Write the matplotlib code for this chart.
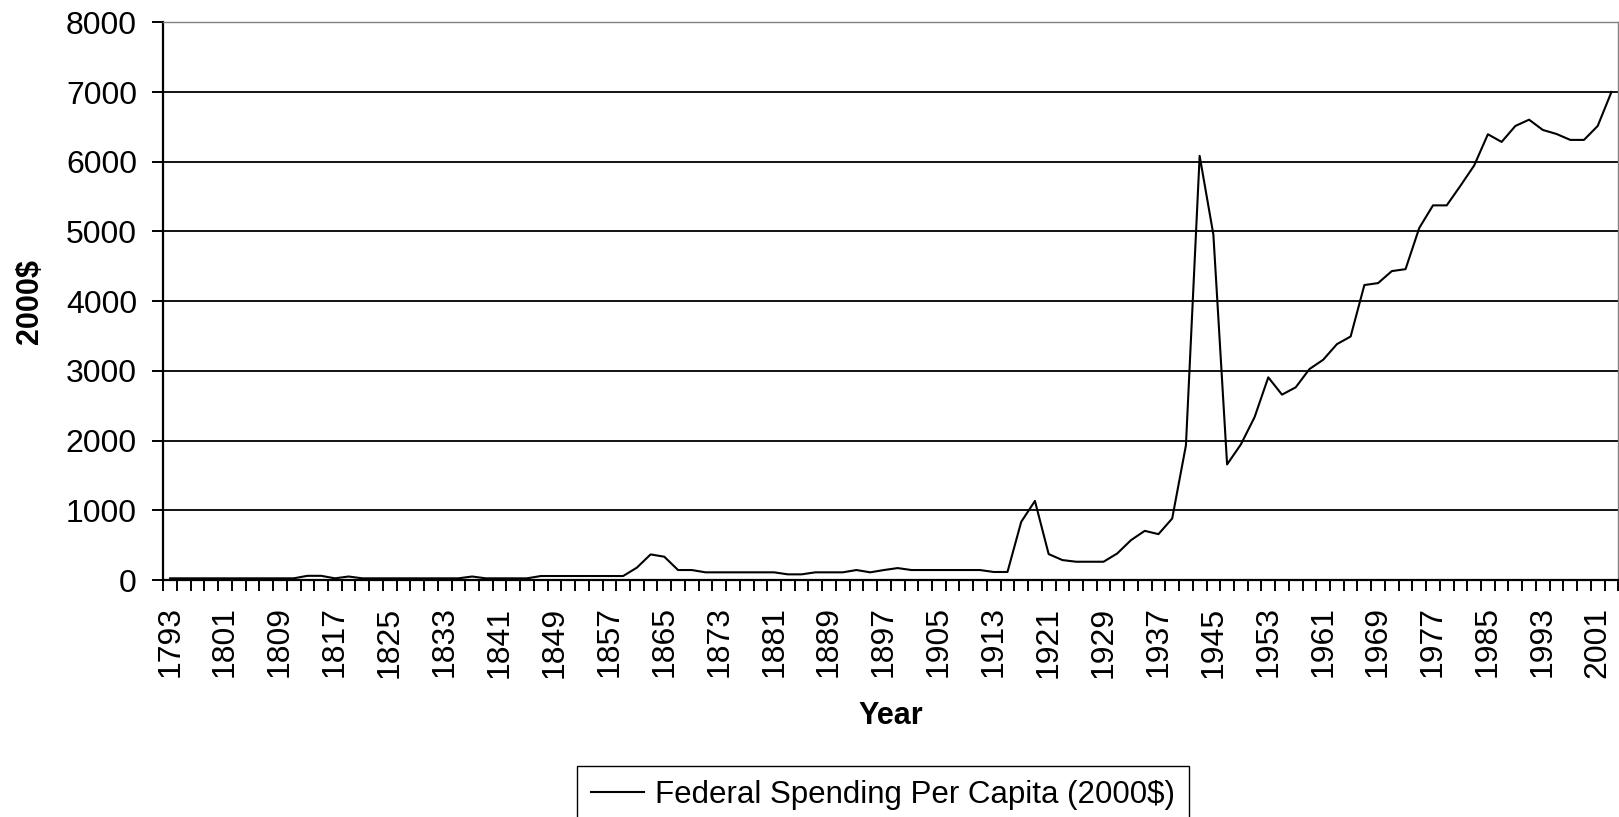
import matplotlib
matplotlib.use("Agg")
import matplotlib.pyplot as plt
import numpy as np

plt.rcParams['font.family'] = ['Liberation Sans', 'DejaVu Sans']

# biennial samples, 1793..2003
years = list(range(1793, 2004, 2))
spending = [
    24, 24, 24, 24, 24, 24, 24, 24, 24, 24,      # 1793-1811
    60, 60, 24, 50, 24, 24, 24, 24, 24, 24,      # 1813-1831
    24, 24, 50, 24, 24, 24, 24, 57, 57, 57,      # 1833-1851
    57, 57, 57, 57, 177, 367, 334, 143, 143, 110,  # 1853-1871
    110, 110, 110, 110, 110, 81, 81, 110, 110, 110,  # 1873-1891
    143, 110, 143, 171, 143, 143, 143, 143, 143, 143,  # 1893-1911
    115, 115, 834, 1134, 372, 286, 262, 262, 262, 381,  # 1913-1931
    572, 705, 658, 882, 1930, 6084, 4955, 1658, 1944, 2335,  # 1933-1951
    2907, 2659, 2764, 3026, 3159, 3383, 3493, 4231, 4259, 4431,  # 1953-1971
    4459, 5050, 5374, 5374, 5655, 5946, 6394, 6284, 6513, 6603,  # 1973-1991
    6456, 6398, 6313, 6313, 6513, 7000,  # 1993-2003
]
assert len(years) == len(spending)

y_ticks = list(range(0, 8001, 1000))
series_name = 'Federal Spending Per Capita (2000$)'

W, H = 1619, 817
fig = plt.figure(figsize=(W / 100, H / 100), dpi=100)
left, right, top, bottom = 163.3, 1618.3, 22.3, 580.0
ax = fig.add_axes([left / W, 1 - bottom / H, (right - left) / W, (bottom - top) / H])

x = np.arange(len(years))
line, = ax.plot(x, spending, color='black', linewidth=1.5, label=series_name)

ax.set_xlim(-0.5, len(years) - 0.5)
ax.set_ylim(0, 8000)

# tick marks on category boundaries, labels every 4th category
ax.set_xticks(np.arange(-0.5, len(years)))
ax.set_xticklabels([])
ax.set_xticks(x[::4], minor=True)
ax.set_xticklabels([str(y) for y in years[::4]], minor=True, rotation=90)
ax.tick_params(axis='x', which='major', direction='out', length=8, width=1.4)
ax.tick_params(axis='x', which='minor', length=0, pad=19, labelsize=23)

ax.set_yticks(y_ticks)
ax.set_yticklabels([str(v) for v in y_ticks])
ax.tick_params(axis='y', direction='out', length=8, width=1.4, pad=11, labelsize=23)

ax.yaxis.grid(True, color='black', linewidth=1.3)
ax.set_axisbelow(True)

for s in ('left', 'bottom'):
    ax.spines[s].set_linewidth(1.6)
    ax.spines[s].set_color('black')
for s in ('top', 'right'):
    ax.spines[s].set_linewidth(1.0)
    ax.spines[s].set_color('#808080')

ax.set_xlabel('Year', fontsize=22, fontweight='bold')
ax.set_ylabel('2000$', fontsize=22, fontweight='bold')
ax.xaxis.set_label_coords(0.5, -(701 - bottom) / (bottom - top))
ax.yaxis.set_label_coords((45 - left) / (right - left), 0.5)

leg = fig.legend(handles=[line], loc='upper left',
                 bbox_to_anchor=(577 / W, 1 - 766 / H),
                 fontsize=22.5, frameon=True, fancybox=False,
                 edgecolor='black', framealpha=1, borderpad=0.45,
                 borderaxespad=0, handlelength=1.7, handletextpad=0.33)
leg.get_frame().set_linewidth(1.0)

fig.savefig('out.png', dpi=100, facecolor='white')
